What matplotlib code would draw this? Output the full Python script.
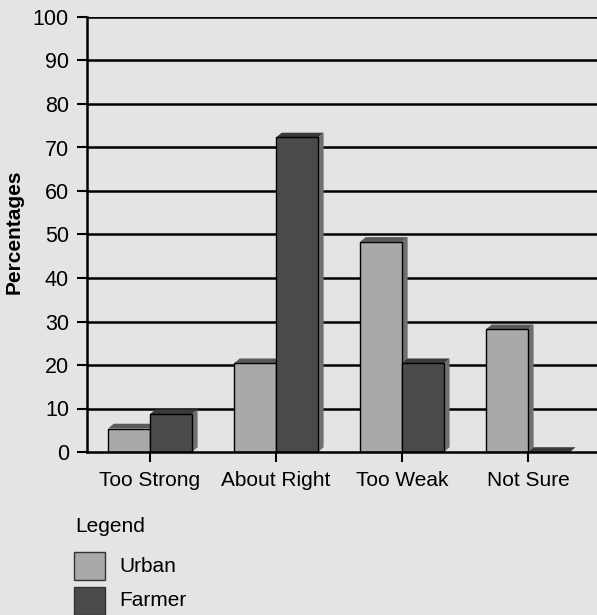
import matplotlib
matplotlib.use("Agg")
import matplotlib.pyplot as plt
from matplotlib.patches import Polygon, Rectangle

categories = ["Too Strong", "About Right", "Too Weak", "Not Sure"]
urban = [5.4, 20.4, 48.3, 28.2]
farmer = [8.7, 72.3, 20.4, 0.0]
yticks = [0, 10, 20, 30, 40, 50, 60, 70, 80, 90, 100]
series_names = ["Urban", "Farmer"]

plt.rcParams['font.family'] = ['Liberation Sans', 'DejaVu Sans']

BG = '#e4e4e2'
C_URBAN = '#a9a9a9'
C_FARMER = '#4a4a4a'
TOP_URBAN = '#5a5a5a'
TOP_FARMER = '#3a3a3a'
SIDE = '#707070'

fig = plt.figure(figsize=(5.97, 6.15), dpi=100, facecolor=BG)
ax = fig.add_axes([87/597, 1-452/615, 1-87/597, (452-17)/615], facecolor=BG)
ax.set_xlim(-0.5, 3.548)
ax.set_ylim(0, 100)

w = 0.333
dx = 0.045
dy = 1.1

ax.set_yticks(yticks)
for t in yticks[1:]:
    ax.axhline(t, color='black', lw=1.8, zorder=1)

def bar3d(x0, h, color, topc, z):
    x1 = x0 + w
    ax.add_patch(Polygon([(x1, 0), (x1, h), (x1 + dx, h + dy), (x1 + dx, dy)],
                         closed=True, facecolor=SIDE, edgecolor='none', zorder=z))
    ax.add_patch(Polygon([(x0, h), (x0 + dx, h + dy), (x1 + dx, h + dy), (x1, h)],
                         closed=True, facecolor=topc, edgecolor='none', zorder=z))
    if h > 0:
        ax.bar(x0, h, width=w, align='edge', color=color, edgecolor='black',
               linewidth=1.0, zorder=z + 0.5)

for i, (u, f) in enumerate(zip(urban, farmer)):
    bar3d(i - w, u, C_URBAN, TOP_URBAN, 2 + i * 2)
    bar3d(i, f, C_FARMER, TOP_FARMER, 3 + i * 2)

for s in ['top', 'right']:
    ax.spines[s].set_visible(False)
for s in ['left', 'bottom']:
    ax.spines[s].set_linewidth(1.8)
    ax.spines[s].set_color('black')
    ax.spines[s].set_zorder(20)

ax.set_xticks(range(len(categories)))
ax.set_xticklabels(categories, fontsize=15)
ax.tick_params(axis='x', length=7, width=1.5, pad=7, color='black')
ax.tick_params(axis='y', length=7, width=1.5, pad=6, labelsize=15.5, color='black')
ax.set_yticklabels([str(t) for t in yticks])

fig.text(14/597, 1-232/615, "Percentages", rotation=90, fontsize=15,
         fontweight='bold', ha='center', va='center')

# legend
fig.text(75/597, 1-526/615, "Legend", fontsize=15, ha='left', va='center')
for j, (name, c) in enumerate(zip(series_names, [C_URBAN, C_FARMER])):
    ytop = 552 + j * 35
    fig.patches.append(Rectangle((74/597, 1-(ytop+28)/615), 31/597, 28/615,
                                 transform=fig.transFigure, facecolor=c,
                                 edgecolor='#333333', linewidth=1.0))
    fig.text(119/597, 1-(ytop+14)/615, name, fontsize=15, ha='left', va='center')

fig.savefig("out.png", dpi=100, facecolor=BG)
